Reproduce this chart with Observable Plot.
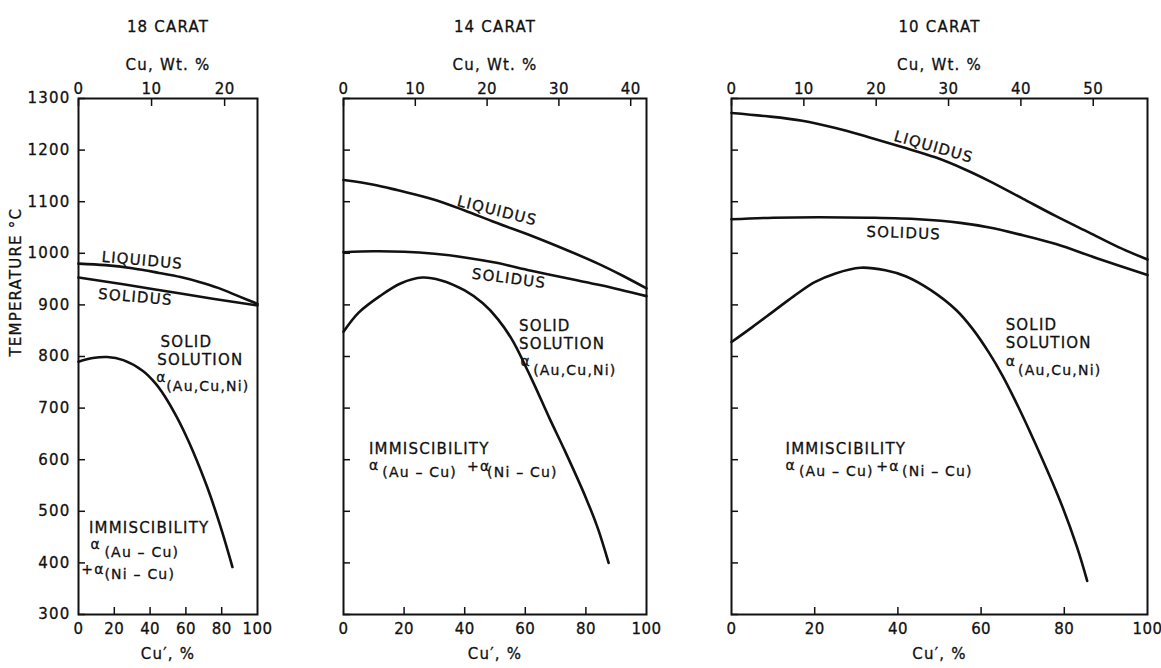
<!DOCTYPE html>
<html><head><meta charset="utf-8">
<script src="https://cdn.jsdelivr.net/npm/d3@7"></script>
<script src="https://cdn.jsdelivr.net/npm/@observablehq/plot@0.6"></script>
<style>
html,body{margin:0;padding:0;background:#fff;}
#wrap{position:relative;width:1161px;height:668px;overflow:hidden;background:#fff;}
#wrap svg{position:absolute;top:0;}
#wrap svg text{letter-spacing:1.2px;stroke:#111;stroke-width:0.3px;}
#wrap svg g[aria-label="x-axis tick label"] text{letter-spacing:0.4px;}
</style></head><body><div id="wrap"></div>
<script>
// ---- data ----
const panelTitles = ["18 CARAT", "14 CARAT", "10 CARAT"];
const cuWtMax = [24.5, 42.2, 57.5];
const cuWtTicks = [[0, 10, 20], [0, 10, 20, 30, 40], [0, 10, 20, 30, 40, 50]];
const cuPrimeTicks = [0, 20, 40, 60, 80, 100];
const cuPrimeInnerTicks = [20, 40, 60, 80];
const tempTicks = [300, 400, 500, 600, 700, 800, 900, 1000, 1100, 1200, 1300];

// [Cu' %, temperature °C]
const liquidus18 = [[0,980],[15,977],[30,971],[45,962],[57,954],[68,944],[78,933],[90,916],[100,902]];
const solidus18 = [[0,953],[25,940],[50,926],[75,912],[100,899]];
const gap18 = [[0,790],[8,797],[16,799],[25,793],[36,772],[43,748],[48,724],[55,682],[60,647],[64,616],[72,546],[79,474],[86,392]];

const liquidus14 = [[0,1142],[10,1133],[18,1122],[30,1104],[40,1083],[50,1060],[62,1034],[75,1003],[84,980],[92,957],[100,932]];
const solidus14 = [[0,1002],[10,1004],[20,1003],[30,999],[40,992],[50,982],[62,966],[75,950],[85,938],[100,917]];
const gap14 = [[0,848],[5,885],[12,917],[19,942],[26,953],[32,948],[40,928],[46,903],[51,872],[56,829],[60,782],[63,745],[68,680],[73,618],[80,526],[84,466],[87.5,400]];

const liquidus10 = [[0,1272],[8,1266],[17,1257],[25,1243],[33,1225],[41,1206],[49,1186],[56,1163],[62,1140],[70,1106],[78,1072],[86,1040],[93,1012],[100,988]];
const solidus10 = [[0,1066],[10,1069],[21,1070],[33,1069],[45,1066],[55,1059],[62,1050],[70,1035],[78,1018],[88,990],[100,958]];
const gap10 = [[0,828],[5,857],[10,887],[15,917],[20,944],[25,961],[31,972],[37,967],[42,955],[48,928],[54,890],[58,853],[62,806],[65,765],[68,718],[73,632],[79,520],[83,432],[85.5,365]];

const liquidusSeries = [liquidus18, liquidus14, liquidus10];
const solidusSeries = [solidus18, solidus14, solidus10];
const gapSeries = [gap18, gap14, gap10];

// curve labels: [panel, text, Cu', °C, rotation]
const curveLabels = [
  [0, "LIQUIDUS", 35.6, 986, 5], [0, "SOLIDUS", 31.8, 915, 5],
  [1, "LIQUIDUS", 50.7, 1082, 14], [1, "SOLIDUS", 54.6, 951, 7.5],
  [2, "LIQUIDUS", 48.6, 1206, 16], [2, "SOLIDUS", 41.4, 1039, 2]
];
// region labels: [panel, text, Cu', °C]
const regionWords = [
  [0, "SOLID", 45.8, 827], [0, "SOLUTION", 44, 792], [0, "IMMISCIBILITY", 5.8, 467],
  [1, "SOLID", 57.9, 858], [1, "SOLUTION", 57.9, 823], [1, "IMMISCIBILITY", 8.4, 620],
  [2, "SOLID", 65.9, 861], [2, "SOLUTION", 65.9, 825], [2, "IMMISCIBILITY", 13, 621]
];
// phase formula pieces: [panel, text, Cu', °C]
const phaseParts = [
  [0, "α", 43.5, 759], [0, "(Au,Cu,Ni)", 49, 741],
  [0, "α", 6.7, 436], [0, "(Au – Cu)", 14.5, 421], [0, "+α", 1.6, 388], [0, "(Ni – Cu)", 14.5, 377],
  [1, "α", 58.4, 790], [1, "(Au,Cu,Ni)", 62.6, 773],
  [1, "α", 8.4, 589], [1, "(Au – Cu)", 12.8, 576], [1, "+α", 40.8, 587], [1, "(Ni – Cu)", 47.4, 576],
  [2, "α", 65.9, 790], [2, "(Au,Cu,Ni)", 68.9, 773],
  [2, "α", 13, 589], [2, "(Au – Cu)", 16.2, 577], [2, "+α", 34.8, 587], [2, "(Ni – Cu)", 41, 577]
];
const yTitle = "TEMPERATURE °C";
const topTitle = "Cu, Wt. %";
const bottomTitle = "Cu′, %";

// ---- layout ----
const layout = [
  {left: 0, ml: 78, w: 179, mr: 20},
  {left: 300, ml: 43, w: 303, mr: 20},
  {left: 690, ml: 41, w: 416, mr: 14}
];
const ink = "#111";

function panel(i) {
  const L = layout[i];
  const max = cuWtMax[i];
  const topPos = cuWtTicks[i].map(w => w * 100 / max);
  const marks = [
    Plot.axisY({anchor: "left", ticks: tempTicks, tickSize: 7, dx: 7, tickFormat: () => "", label: null, strokeWidth: 1.5}),
    Plot.axisX({anchor: "bottom", ticks: cuPrimeInnerTicks, tickSize: 7, dy: -7, tickFormat: () => "", label: null, strokeWidth: 1.5}),
    Plot.axisX({anchor: "top", ticks: topPos, tickSize: 7, dy: 7, tickFormat: () => "", label: null, strokeWidth: 1.5}),
    Plot.axisX({anchor: "bottom", ticks: cuPrimeTicks, tickFormat: d => String(d), tickSize: 0, tickPadding: 9, label: null}),
    Plot.axisX({anchor: "top", ticks: topPos, tickFormat: v => String(Math.round(v * max / 100)), tickSize: 0, tickPadding: 5, label: null}),
    Plot.frame({stroke: ink, strokeWidth: 2}),
    Plot.line(liquidusSeries[i], {x: d => d[0], y: d => d[1], curve: "catmull-rom", stroke: ink, strokeWidth: 2.6}),
    Plot.line(solidusSeries[i], {x: d => d[0], y: d => d[1], curve: "catmull-rom", stroke: ink, strokeWidth: 2.6}),
    Plot.line(gapSeries[i], {x: d => d[0], y: d => d[1], curve: "catmull-rom", stroke: ink, strokeWidth: 2.6}),
    Plot.text(curveLabels.filter(d => d[0] === i), {x: d => d[2], y: d => d[3], text: d => d[1], rotate: d => d[4], textAnchor: "middle", fill: ink}),
    Plot.text(regionWords.filter(d => d[0] === i), {x: d => d[2], y: d => d[3], text: d => d[1], textAnchor: "start", fill: ink}),
    Plot.text(phaseParts.filter(d => d[0] === i), {x: d => d[2], y: d => d[3], text: d => d[1], textAnchor: "start", fill: ink, fontSize: 14}),
    Plot.text([panelTitles[i]], {frameAnchor: "top", dy: -77, text: d => d, fill: ink}),
    Plot.text([topTitle], {frameAnchor: "top", dy: -39, text: d => d, fill: ink}),
    Plot.text([bottomTitle], {frameAnchor: "bottom", dy: 44, text: d => d, fill: ink})
  ];
  if (i === 0) {
    marks.push(Plot.axisY({anchor: "left", ticks: tempTicks, tickFormat: d => String(d), tickSize: 0, tickPadding: 8, label: null}));
    marks.push(Plot.text([yTitle], {frameAnchor: "left", dx: -62, rotate: -90, text: d => d, fill: ink}));
  }
  const svg = Plot.plot({
    width: L.ml + L.w + L.mr,
    height: 668,
    marginTop: 98, marginBottom: 54, marginLeft: L.ml, marginRight: L.mr,
    x: {domain: [0, 100]},
    y: {domain: [300, 1300]},
    style: {fontFamily: "'DejaVu Sans', sans-serif", fontSize: "15px", color: ink, background: "transparent", overflow: "visible"},
    marks
  });
  svg.style.left = L.left + "px";
  return svg;
}

const wrap = document.getElementById("wrap");
for (let i = 0; i < 3; i++) wrap.appendChild(panel(i));
</script>
</body></html>
